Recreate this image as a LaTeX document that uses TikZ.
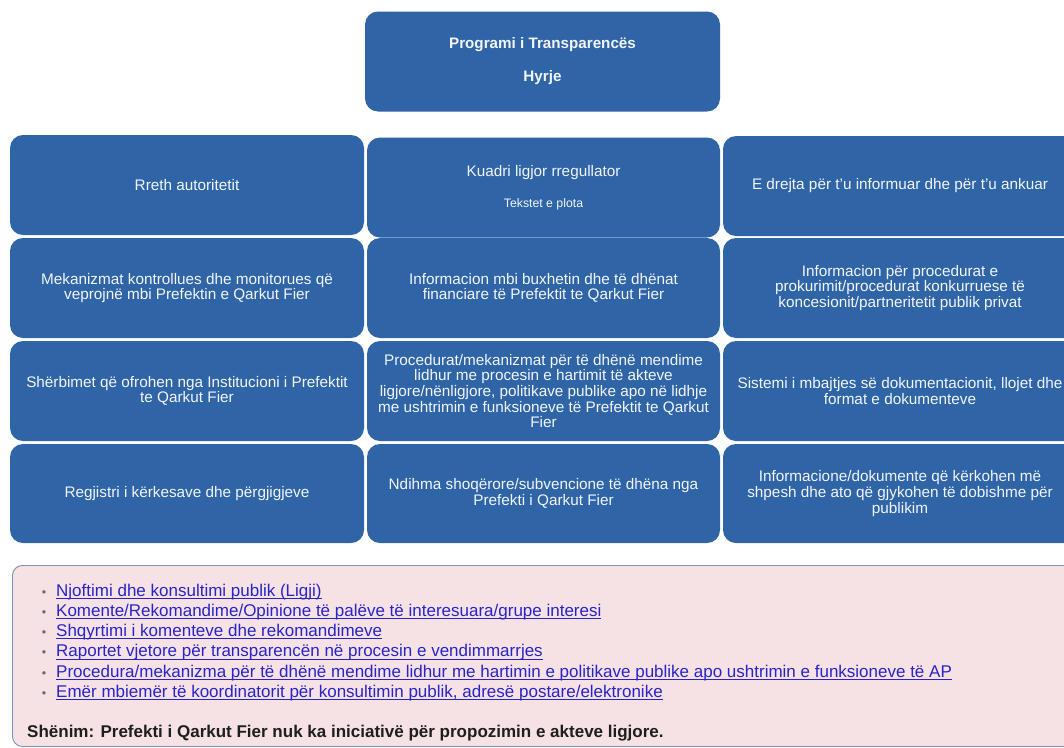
\documentclass[tikz,border=0pt]{standalone}
\usepackage{fontspec}
\setmainfont{Liberation Sans}
\definecolor{tileblue}{RGB}{47,101,167}
\definecolor{tiletext}{RGB}{242,245,250}
\definecolor{notepink}{RGB}{246,226,228}
\definecolor{noteedge}{RGB}{122,146,180}
\definecolor{linkblue}{RGB}{40,36,200}
\definecolor{notetext}{RGB}{30,30,30}
\definecolor{bulletgrey}{RGB}{105,105,125}
\newcommand\linkul[1]{\setbox0=\hbox{#1}\rlap{\rule[-2.6pt]{\wd0}{0.9pt}}\box0}
\begin{document}
\begin{tikzpicture}[x=1pt,y=-1pt,
  tile/.style={fill=tileblue, rounded corners=13pt, text=tiletext, align=center,
    inner sep=0pt, minimum width=#1, minimum height=100pt,
    font=\fontsize{15.3}{15.6}\selectfont},
  tile/.default=354pt,
  notebox/.style={fill=notepink, draw=noteedge, line width=0.9pt, rounded corners=10pt},
  linktext/.style={anchor=base west, inner sep=0pt, text=linkblue, font=\fontsize{17}{19}\selectfont},
  bulletmark/.style={anchor=base, inner sep=0pt, text=bulletgrey, font=\fontsize{12.5}{13}\selectfont},
  notetextstyle/.style={anchor=base west, inner sep=0pt, text=notetext, font=\fontsize{17}{19}\bfseries}
]
\clip (0,0) rectangle (1064,747);
\fill[white] (0,0) rectangle (1064,747);

% top tile
\node[tile=355pt, font=\fontsize{15.2}{15.6}\bfseries] (top) at (542.5,61.5)
  {Programi i Transparencës\\[17.5pt]Hyrje};

% row 1
\node[tile] (r1c1) at (187,185) {Rreth autoritetit};
\node[tile=353pt] (r1c2) at (543.5,187.5)
  {Kuadri ligjor rregullator\\[15pt]{\fontsize{12.3}{13}\selectfont Tekstet e plota}};
\node[tile] (r1c3) at (900,186) {E drejta për t'u informuar dhe për t'u ankuar};

% row 2
\node[tile] (r2c1) at (187,288) {Mekanizmat kontrollues dhe monitorues që\\veprojnë mbi Prefektin e Qarkut Fier};
\node[tile=353pt] (r2c2) at (543.5,288) {Informacion mbi buxhetin dhe të dhënat\\financiare të Prefektit te Qarkut Fier};
\node[tile] (r2c3) at (900,288) {Informacion për procedurat e\\prokurimit/procedurat konkurruese të\\koncesionit/partneritetit publik privat};

% row 3
\node[tile] (r3c1) at (187,391) {Shërbimet që ofrohen nga Institucioni i Prefektit\\te Qarkut Fier};
\node[tile=353pt] (r3c2) at (543.5,391) {Procedurat/mekanizmat për të dhënë mendime\\lidhur me procesin e hartimit të akteve\\ligjore/nënligjore, politikave publike apo në lidhje\\me ushtrimin e funksioneve të Prefektit te Qarkut\\Fier};
\node[tile] (r3c3) at (900,391) {Sistemi i mbajtjes së dokumentacionit, llojet dhe\\format e dokumenteve};

% row 4
\node[tile, minimum height=99pt] (r4c1) at (187,493.5) {Regjistri i kërkesave dhe përgjigjeve};
\node[tile=353pt, minimum height=99pt] (r4c2) at (543.5,493.5) {Ndihma shoqërore/subvencione të dhëna nga\\Prefekti i Qarkut Fier};
\node[tile, minimum height=99pt] (r4c3) at (900,493.5) {Informacione/dokumente që kërkohen më\\shpesh dhe ato që gjykohen të dobishme për\\publikim};

% note box
\node[notebox, anchor=north west, minimum width=1080pt, minimum height=181pt, inner sep=0pt] (note) at (12,565) {};

\node[bulletmark] (b1) at (44,596) {•};
\node[bulletmark] (b2) at (44,616.3) {•};
\node[bulletmark] (b3) at (44,636.6) {•};
\node[bulletmark] (b4) at (44,656.9) {•};
\node[bulletmark] (b5) at (44,677.2) {•};
\node[bulletmark] (b6) at (44,697.5) {•};

\node[linktext] (l1) at (56,596) {\linkul{Njoftimi dhe konsultimi publik (Ligji)}};
\node[linktext] (l2) at (56,616.3) {\linkul{Komente/Rekomandime/Opinione të palëve të interesuara/grupe interesi}};
\node[linktext] (l3) at (56,636.6) {\linkul{Shqyrtimi i komenteve dhe rekomandimeve}};
\node[linktext] (l4) at (56,656.9) {\linkul{Raportet vjetore për transparencën në procesin e vendimmarrjes}};
\node[linktext] (l5) at (56,677.2) {\linkul{Procedura/mekanizma për të dhënë mendime lidhur me hartimin e politikave publike apo ushtrimin e funksioneve të AP}};
\node[linktext] (l6) at (56,697.5) {\linkul{Emër mbiemër të koordinatorit për konsultimin publik, adresë postare/elektronike}};

\node[notetextstyle] (shenim) at (27,737) {Shënim: Prefekti i Qarkut Fier nuk ka iniciativë për propozimin e akteve ligjore.};
\end{tikzpicture}
\end{document}
